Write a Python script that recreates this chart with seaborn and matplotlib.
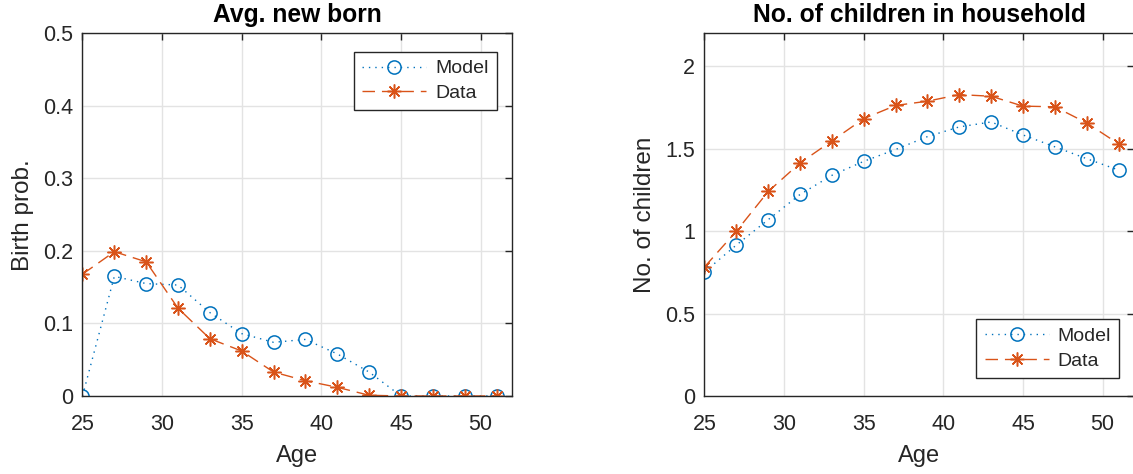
import matplotlib
matplotlib.use("Agg")
import matplotlib.pyplot as plt
import seaborn as sns
import pandas as pd

# Ages at which fertility and household size are reported
ages = [25, 27, 29, 31, 33, 35, 37, 39, 41, 43, 45, 47, 49, 51]

# Birth probability by age
birth_model = [0.0, 0.165, 0.155, 0.153, 0.115, 0.086, 0.074, 0.078, 0.058, 0.033,
               0.0, 0.0, 0.0, 0.0]
birth_data = [0.168, 0.199, 0.185, 0.121, 0.079, 0.062, 0.033, 0.021, 0.012, 0.001,
              0.0, 0.0, 0.0, 0.0]

# Number of children living in the household by age
kids_model = [0.753, 0.916, 1.070, 1.223, 1.339, 1.424, 1.496, 1.574, 1.633, 1.663,
              1.584, 1.512, 1.440, 1.371]
kids_data = [0.783, 1.000, 1.241, 1.414, 1.548, 1.683, 1.763, 1.789, 1.829, 1.819,
             1.759, 1.755, 1.657, 1.530]

x_ticks = [25, 30, 35, 40, 45, 50]
birth_ticks = [0, 0.1, 0.2, 0.3, 0.4, 0.5]
kids_ticks = [0, 0.5, 1, 1.5, 2]

BLUE = "#0072BD"
ORANGE = "#D95319"
INK = "#262626"

sns.set_theme(style="whitegrid")
plt.rcParams["font.family"] = ["Liberation Sans", "DejaVu Sans"]

fig = plt.figure(figsize=(11.33, 4.74), dpi=100)
# the second panel runs past the right edge of the canvas
ax1 = fig.add_axes([0.0728, 0.1646, 0.3795, 0.7648])
ax2 = fig.add_axes([0.6218, 0.1646, 0.3795, 0.7648])


def draw(ax, model, data, title, ylabel, ylim, yticks, yfmt, legend_loc, legend_anchor):
    df = pd.DataFrame({"Age": ages, "Model": model, "Data": data})
    sns.lineplot(data=df, x="Age", y="Model", ax=ax, color=BLUE,
                 linestyle=(0, (1, 3.6)), linewidth=1.0, marker="o", markersize=9.5,
                 markerfacecolor="none", markeredgecolor=BLUE, markeredgewidth=1.1,
                 label="Model")
    sns.lineplot(data=df, x="Age", y="Data", ax=ax, color=ORANGE,
                 linestyle=(0, (9, 5)), linewidth=1.0, marker=(8, 2, 0), markersize=10,
                 markeredgecolor=ORANGE, markeredgewidth=1.1, label="Data")
    ax.set_xlim(25, 52)
    ax.set_ylim(*ylim)
    ax.set_xticks(x_ticks)
    ax.set_yticks(yticks)
    ax.set_yticklabels([yfmt(v) for v in yticks])
    ax.set_title(title, fontsize=17.7, fontweight="bold", color="black", pad=8)
    ax.set_xlabel("Age", fontsize=17, color=INK, labelpad=7)
    ax.set_ylabel(ylabel, fontsize=17.5, color=INK, labelpad=6)
    ax.grid(True, color="#e3e3e3", linewidth=1.0)
    ax.set_facecolor("white")
    for s in ax.spines.values():
        s.set_visible(True)
        s.set_color(INK)
        s.set_linewidth(1.0)
    ax.tick_params(axis="both", direction="in", length=5, width=1.0, color=INK,
                   labelsize=15.5, labelcolor=INK, top=True, right=True)
    ax.tick_params(axis="x", pad=13)
    ax.tick_params(axis="y", pad=7)
    leg = ax.legend(loc=legend_loc, bbox_to_anchor=legend_anchor, fontsize=14,
                    frameon=True, fancybox=False, framealpha=1, edgecolor=INK,
                    handlelength=3.3, handletextpad=0.45, borderpad=0.42,
                    labelspacing=0.35, borderaxespad=0)
    leg.get_frame().set_linewidth(1.0)


def fmt_birth(v):
    return "0" if v == 0 else f"{v:.1f}"


def fmt_kids(v):
    return f"{v:g}"


draw(ax1, birth_model, birth_data, "Avg. new born", "Birth prob.", (0, 0.5),
     birth_ticks, fmt_birth, "upper right", (0.963, 0.950))
draw(ax2, kids_model, kids_data, "No. of children in household", "No. of children",
     (0, 2.2), kids_ticks, fmt_kids, "lower right", (0.964, 0.0505))

fig.savefig("out.png", dpi=100)
